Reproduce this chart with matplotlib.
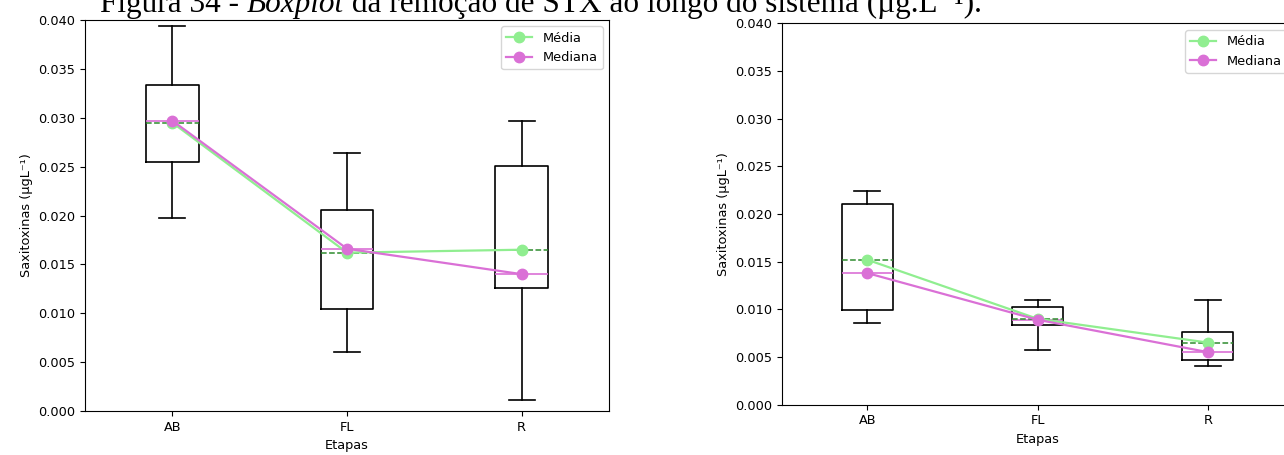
import matplotlib

matplotlib.use("Agg")
import matplotlib.pyplot as plt


STAGES = ["AB", "FL", "R"]

# left panel box statistics (µg/L)
LEFT_WHISLO = [0.0197, 0.0060, 0.0011]
LEFT_Q1 = [0.0255, 0.0104, 0.0126]
LEFT_MED = [0.0297, 0.0166, 0.0140]
LEFT_Q3 = [0.0333, 0.0206, 0.0251]
LEFT_WHISHI = [0.0394, 0.0264, 0.0297]
LEFT_MEAN = [0.0295, 0.0162, 0.0165]

# right panel box statistics (µg/L)
RIGHT_WHISLO = [0.0086, 0.0057, 0.0040]
RIGHT_Q1 = [0.0099, 0.0083, 0.0047]
RIGHT_MED = [0.0138, 0.0089, 0.0055]
RIGHT_Q3 = [0.0210, 0.0102, 0.0076]
RIGHT_WHISHI = [0.0224, 0.0110, 0.0110]
RIGHT_MEAN = [0.0152, 0.0090, 0.0065]

YTICKS = [0.000, 0.005, 0.010, 0.015, 0.020, 0.025, 0.030, 0.035, 0.040]

W, H = 1284, 455
MEAN_COLOR = "#90EE90"
MEDIAN_COLOR = "#DA70D6"


def build_stats(whislo, q1, med, q3, whishi, mean):
    stats = []
    for i, label in enumerate(STAGES):
        stats.append(
            {
                "label": label,
                "whislo": whislo[i],
                "q1": q1[i],
                "med": med[i],
                "q3": q3[i],
                "whishi": whishi[i],
                "mean": mean[i],
                "fliers": [],
            }
        )
    return stats


def draw_panel(ax, stats, mean, med):
    ax.bxp(
        stats,
        widths=0.3,
        showmeans=True,
        meanline=True,
        boxprops={"color": "black", "linewidth": 1.2},
        whiskerprops={"color": "black", "linewidth": 1.2},
        capprops={"color": "black", "linewidth": 1.2},
        medianprops={"color": MEDIAN_COLOR, "linewidth": 1.2},
        meanprops={"color": "#2E8B2E", "linestyle": "--", "linewidth": 1.1},
    )
    x = range(1, len(STAGES) + 1)
    ax.plot(x, mean, color=MEAN_COLOR, marker="o", markersize=7.5, linewidth=1.6, label="Média", zorder=3)
    ax.plot(x, med, color=MEDIAN_COLOR, marker="o", markersize=7.5, linewidth=1.6, label="Mediana", zorder=4)
    ax.set_xlim(0.5, 3.5)
    ax.set_ylim(0, 0.040)
    ax.set_yticks(YTICKS)
    ax.set_yticklabels([f"{v:.3f}" for v in YTICKS])
    ax.tick_params(labelsize=9.3)
    ax.set_xlabel("Etapas", fontsize=9.3)
    ax.set_ylabel("Saxitoxinas (µgL⁻¹)", fontsize=9.3)
    ax.legend(loc="upper right", fontsize=9.3)


fig = plt.figure(figsize=(W / 100, H / 100), dpi=100)

ax1 = fig.add_axes([85 / W, 1 - 411 / H, (609 - 85) / W, (411 - 20) / H])
draw_panel(ax1, build_stats(LEFT_WHISLO, LEFT_Q1, LEFT_MED, LEFT_Q3, LEFT_WHISHI, LEFT_MEAN), LEFT_MEAN, LEFT_MED)

ax2 = fig.add_axes([782 / W, 1 - 404.5 / H, (1293 - 782) / W, (404.5 - 23.5) / H])
draw_panel(ax2, build_stats(RIGHT_WHISLO, RIGHT_Q1, RIGHT_MED, RIGHT_Q3, RIGHT_WHISHI, RIGHT_MEAN), RIGHT_MEAN, RIGHT_MED)

# caption, cut at the top like the page scan
fig.canvas.draw()
renderer = fig.canvas.get_renderer()
parts = [
    ("Figura 34 - ", "normal"),
    ("Boxplot", "italic"),
    (" da remoção de STX ao longo do sistema (µg.L⁻¹).", "normal"),
]
x_px = 100
for text, style in parts:
    t = fig.text(x_px / W, 1 - 12 / H, text, fontsize=22.5,
                 family=["Liberation Serif", "DejaVu Serif"],
                 style=style, va="baseline", ha="left")
    x_px += t.get_window_extent(renderer).width

fig.savefig("out.png", dpi=100)
